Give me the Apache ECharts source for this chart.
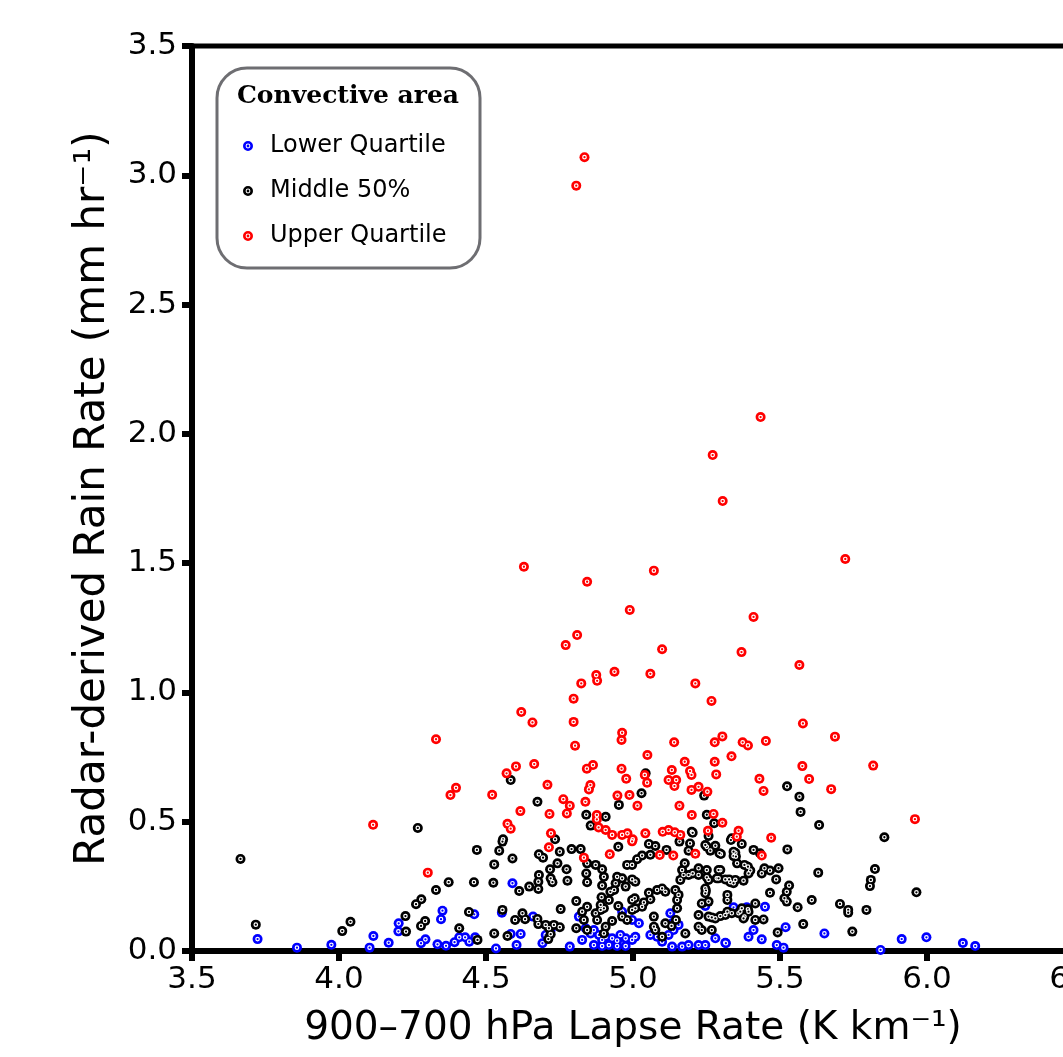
<!DOCTYPE html>
<html>
<head>
<meta charset="utf-8">
<script src="https://cdn.jsdelivr.net/npm/echarts@6/dist/echarts.min.js"></script>
<style>
html, body { margin: 0; padding: 0; background: #fff; }
#chart { width: 1063px; height: 1057px; }
</style>
</head>
<body>
<div id="chart"></div>
<script>
// [lapse rate (K/km), rain rate (mm/hr)]
const upperQuartile = [
  [4.835,3.07],[4.807,2.96],[5.434,2.065],[5.271,1.918],[5.305,1.740],[5.722,1.516],[4.629,1.486],[5.071,1.471],
  [4.844,1.428],[4.989,1.319],[5.410,1.292],[4.810,1.222],[4.771,1.183],[5.099,1.167],[5.369,1.156],[5.566,1.106],
  [4.937,1.080],[4.875,1.067],[4.878,1.045],[5.059,1.072],[4.824,1.035],[5.212,1.035],[5.267,0.967],[4.798,0.976],
  [4.620,0.924],[4.658,0.884],[4.798,0.886],[5.578,0.880],[4.330,0.819],[4.803,0.794],[4.963,0.844],[4.961,0.816],
  [5.304,0.830],[5.278,0.807],[5.140,0.807],[5.687,0.829],[5.373,0.807],[5.391,0.795],[5.452,0.812],[5.049,0.758],
  [5.335,0.753],[5.176,0.732],[5.278,0.732],[5.576,0.715],[5.817,0.717],[5.283,0.683],[5.132,0.700],[5.194,0.696],
  [5.199,0.681],[4.961,0.705],[4.977,0.666],[4.843,0.705],[4.864,0.719],[5.121,0.661],[5.147,0.661],[5.141,0.638],
  [5.040,0.681],[5.048,0.651],[4.855,0.642],[4.850,0.625],[4.664,0.723],[4.602,0.714],[4.570,0.687],[4.709,0.643],
  [4.398,0.631],[4.379,0.603],[4.521,0.604],[4.763,0.587],[4.785,0.562],[4.838,0.577],[4.947,0.601],[4.988,0.603],
  [5.015,0.562],[5.158,0.562],[5.223,0.635],[5.199,0.623],[5.253,0.616],[5.599,0.665],[5.430,0.666],[5.674,0.626],
  [5.444,0.619],[4.617,0.541],[4.716,0.530],[4.775,0.532],[4.116,0.488],[4.573,0.492],[4.584,0.473],[4.877,0.526],
  [4.877,0.509],[4.883,0.478],[5.200,0.526],[5.274,0.530],[5.304,0.496],[4.721,0.455],[4.907,0.468],[4.929,0.449],
  [4.963,0.449],[4.981,0.455],[5.042,0.455],[5.101,0.461],[5.121,0.468],[5.142,0.459],[5.161,0.449],[5.255,0.465],
  [4.999,0.432],[5.359,0.465],[5.353,0.442],[5.470,0.438],[4.302,0.303],[4.714,0.401],[4.833,0.361],[4.921,0.374],
  [4.997,0.424],[5.091,0.371],[5.137,0.369],[5.212,0.376],[5.438,0.369],[5.959,0.510]
];

const middle50 = [
  [3.665,0.356],[3.717,0.102],[4.011,0.077],[4.039,0.113],[4.226,0.135],[4.228,0.075],[4.279,0.097],[4.293,0.116],
  [4.262,0.181],[4.280,0.200],[4.330,0.236],[4.373,0.266],[4.459,0.266],[4.442,0.151],[4.409,0.088],[4.471,0.043],
  [4.469,0.391],[4.268,0.476],[4.584,0.661],[4.675,0.577],[4.841,0.527],[4.907,0.519],[4.856,0.485],[4.952,0.565],
  [5.029,0.610],[5.043,0.687],[5.242,0.601],[5.251,0.527],[5.276,0.494],[5.200,0.461],[5.257,0.445],[4.558,0.432],
  [4.735,0.432],[5.524,0.637],[5.566,0.597],[5.570,0.538],[5.633,0.487],[5.855,0.440],[5.336,0.436],
  [4.556,0.423],[4.545,0.388],[4.528,0.335],[4.590,0.358],[4.525,0.264],[4.613,0.232],[4.647,0.249],[4.678,0.268],
  [4.680,0.294],[4.678,0.240],[4.680,0.374],[4.694,0.361],[4.751,0.384],[4.743,0.339],[4.718,0.316],[4.720,0.281],
  [4.726,0.266],[4.774,0.316],[4.777,0.272],[4.791,0.394],[4.822,0.394],[4.844,0.339],[4.873,0.333],[4.895,0.316],
  [4.841,0.300],[4.844,0.266],[4.901,0.287],[4.895,0.253],[4.950,0.403],[4.980,0.333],[4.997,0.333],[5.014,0.355],
  [5.031,0.369],[5.054,0.414],[5.059,0.372],[5.076,0.406],[5.114,0.391],[4.946,0.287],[4.963,0.281],[4.997,0.277],
  [4.941,0.262],[4.936,0.236],[4.975,0.249],[5.008,0.268],[4.923,0.229],[4.918,0.197],[4.893,0.208],[4.890,0.178],
  [4.901,0.165],[4.950,0.174],[4.997,0.197],[5.006,0.204],[4.980,0.120],[4.963,0.133],[4.929,0.116],[4.907,0.094],
  [4.901,0.068],[4.890,0.159],[4.873,0.146],[4.878,0.120],[4.844,0.171],[4.827,0.152],[4.833,0.120],[4.807,0.193],
  [4.807,0.088],[4.844,0.081],[4.754,0.162],[4.703,0.101],[4.714,0.088],[4.731,0.101],[4.751,0.092],[4.720,0.065],
  [4.712,0.046],[4.675,0.124],[4.678,0.104],[4.624,0.146],[4.633,0.123],[4.599,0.120],[4.556,0.159],[4.528,0.068],
  [4.573,0.058],[5.054,0.225],[5.037,0.188],[5.059,0.200],[5.082,0.236],[5.099,0.242],[5.110,0.229],[5.031,0.171],
  [5.008,0.165],[4.997,0.159],[5.071,0.133],[5.110,0.107],[5.071,0.094],[5.076,0.081],[5.099,0.055],[5.144,0.236],
  [5.155,0.217],[5.150,0.197],[5.150,0.165],[5.161,0.275],[5.172,0.294],[5.189,0.294],[5.167,0.313],[5.176,0.339],
  [5.194,0.416],[5.203,0.300],[5.223,0.294],[5.251,0.313],[5.223,0.320],[5.257,0.275],[5.285,0.281],[5.297,0.313],
  [5.314,0.277],[5.331,0.266],[5.348,0.275],[5.376,0.272],[5.257,0.191],[5.246,0.242],[5.248,0.233],[5.321,0.217],
  [5.321,0.197],[5.223,0.139],[5.257,0.133],[5.280,0.126],[5.314,0.139],[5.336,0.146],[5.359,0.146],[5.370,0.165],
  [5.391,0.161],[5.416,0.184],[5.379,0.133],[5.444,0.122],[5.447,0.320],[5.410,0.391],[5.348,0.380],[5.342,0.367],
  [5.354,0.339],[5.379,0.333],[5.399,0.311],[5.393,0.300],[5.370,0.414],[5.299,0.375],[5.280,0.407],[5.251,0.403],
  [5.189,0.388],[5.203,0.457],[5.158,0.423],[5.223,0.094],[5.234,0.081],[5.268,0.081],[5.178,0.068],[5.131,0.097],
  [5.146,0.120],[5.234,0.184],[5.416,0.120],[5.438,0.300],[5.333,0.429],[5.342,0.384],[5.350,0.365],[5.246,0.410],
  [5.263,0.388],[5.294,0.378],[5.432,0.378],[5.525,0.393],[5.291,0.313],[5.391,0.326],[5.466,0.311],[5.495,0.320],
  [5.251,0.285],[5.291,0.281],[5.327,0.277],[5.342,0.262],[5.487,0.277],[5.630,0.303],[5.823,0.317],[5.809,0.275],
  [5.806,0.251],[5.964,0.227],[5.246,0.223],[5.466,0.225],[5.531,0.253],[5.523,0.229],[5.515,0.204],[5.523,0.191],
  [5.608,0.197],[5.560,0.169],[5.704,0.182],[5.732,0.159],[5.732,0.148],[5.794,0.159],[5.268,0.130],[5.297,0.135],
  [5.321,0.152],[5.365,0.152],[5.393,0.152],[5.376,0.126],[5.579,0.104],[5.492,0.072],[5.746,0.075]
];

const lowerQuartile = [
  [3.723,0.046],[3.857,0.013],[3.974,0.024],[4.104,0.013],[4.117,0.058],[4.169,0.032],[4.203,0.107],[4.202,0.076],
  [4.352,0.156],[4.347,0.123],[4.294,0.045],[4.279,0.030],[4.335,0.026],[4.364,0.020],[4.393,0.034],[4.409,0.053],
  [4.429,0.053],[4.460,0.142],[4.443,0.036],[4.590,0.262],[4.554,0.148],[4.584,0.066],[4.618,0.066],[4.604,0.023],
  [4.463,0.053],[4.534,0.010],[4.660,0.133],[4.692,0.030],[4.703,0.062],[4.720,0.081],[4.785,0.017],[4.816,0.133],
  [4.827,0.043],[4.856,0.068],[4.867,0.081],[4.884,0.062],[4.895,0.043],[4.907,0.055],[4.929,0.049],[4.946,0.040],
  [4.957,0.062],[4.975,0.049],[4.997,0.043],[5.008,0.055],[4.867,0.023],[4.895,0.019],[4.918,0.023],[4.946,0.019],
  [4.975,0.019],[4.839,0.088],[4.963,0.152],[4.997,0.120],[5.020,0.107],[5.059,0.062],[5.082,0.055],[5.099,0.036],
  [5.121,0.062],[5.138,0.081],[5.155,0.101],[5.133,0.107],[5.133,0.017],[5.167,0.017],[5.189,0.023],[5.223,0.023],
  [5.246,0.023],[5.127,0.146],[5.246,0.174],[5.280,0.049],[5.314,0.032],[5.342,0.169],[5.365,0.159],[5.387,0.169],
  [5.410,0.081],[5.393,0.055],[5.438,0.045],[5.449,0.171],[5.519,0.092],[5.651,0.068],[5.842,0.004],[5.914,0.046],
  [5.998,0.053],[6.122,0.031],[6.164,0.019],[5.489,0.023],[5.512,0.013],[5.316,0.030]
];

const groups = [
  {name: 'Lower Quartile', color: '#0000ff', data: lowerQuartile},
  {name: 'Middle 50%', color: '#000000', data: middle50},
  {name: 'Upper Quartile', color: '#ff0000', data: upperQuartile}
];

const chart = echarts.init(document.getElementById('chart'));

const font = 'DejaVu Sans';

// legend icon: dot with a thin white ring cut in (outer cw, hole ccw, centre cw)
const ringIcon = 'path://M0,5A5,5 0 1,1 10,5A5,5 0 1,1 0,5Z' +
  'M2.6,5A2.4,2.4 0 1,0 7.4,5A2.4,2.4 0 1,0 2.6,5Z' +
  'M3.6,5A1.4,1.4 0 1,1 6.4,5A1.4,1.4 0 1,1 3.6,5Z';

// each marker = filled dot + small white ring on top
const series = [];
groups.forEach(g => {
  series.push({
    name: g.name,
    type: 'scatter',
    data: g.data,
    symbol: 'circle',
    symbolSize: 10,
    itemStyle: {color: g.color, opacity: 1},
    emphasis: {disabled: true}
  });
  series.push({
    name: g.name + ' ring',
    type: 'scatter',
    data: g.data,
    symbol: 'circle',
    symbolSize: 3.5,
    itemStyle: {color: g.color, borderColor: '#ffffff', borderWidth: 1.2, opacity: 1},
    emphasis: {disabled: true},
    silent: true
  });
});

const option = {
  animation: false,
  backgroundColor: '#ffffff',
  grid: {
    left: 192,
    right: -11,
    top: 46,
    bottom: 106,
    containLabel: false,
    outerBoundsMode: 'none',
    show: true,
    borderColor: '#000',
    borderWidth: 5
  },
  xAxis: {
    type: 'value',
    min: 3.5,
    max: 6.5,
    interval: 0.5,
    name: '900–700 hPa Lapse Rate (K km⁻¹)',
    nameLocation: 'middle',
    nameGap: 58,
    nameTextStyle: {fontFamily: font, fontSize: 39, color: '#000'},
    axisLine: {show: true, lineStyle: {color: '#000', width: 6}},
    axisTick: {show: true, inside: false, length: 10, lineStyle: {color: '#000', width: 6}},
    axisLabel: {
      fontFamily: font, fontSize: 31, color: '#000', margin: 13,
      formatter: v => v.toFixed(1)
    },
    splitLine: {show: false}
  },
  yAxis: {
    type: 'value',
    min: 0,
    max: 3.5,
    interval: 0.5,
    name: 'Radar-derived Rain Rate (mm hr⁻¹)',
    nameLocation: 'middle',
    nameGap: 78,
    nameRotate: 90,
    nameTextStyle: {fontFamily: font, fontSize: 42, color: '#000'},
    axisLine: {show: true, lineStyle: {color: '#000', width: 6}},
    axisTick: {show: true, inside: false, length: 10, lineStyle: {color: '#000', width: 6}},
    axisLabel: {
      fontFamily: font, fontSize: 31, color: '#000', margin: 15,
      formatter: v => v.toFixed(1)
    },
    splitLine: {show: false}
  },
  legend: {
    data: groups.map(g => g.name),
    orient: 'vertical',
    left: 238,
    top: 126,
    z: 10,
    itemWidth: 10,
    itemHeight: 10,
    itemGap: 15,
    icon: ringIcon,
    selectedMode: false,
    textStyle: {fontFamily: font, fontSize: 24, color: '#000', lineHeight: 30, padding: [0, 0, 0, 12]}
  },
  graphic: [
    {
      type: 'rect',
      z: 1,
      shape: {x: 217, y: 68, width: 263, height: 200, r: 30},
      style: {fill: '#fff', stroke: '#6e6e72', lineWidth: 3}
    },
    {
      type: 'text',
      z: 11,
      x: 348,
      y: 96,
      style: {
        text: 'Convective area',
        fontFamily: 'DejaVu Serif',
        fontWeight: 'bold',
        fontSize: 25,
        fill: '#000',
        align: 'center',
        verticalAlign: 'middle'
      }
    }
  ],
  series: series
};

chart.setOption(option);
</script>
</body>
</html>
